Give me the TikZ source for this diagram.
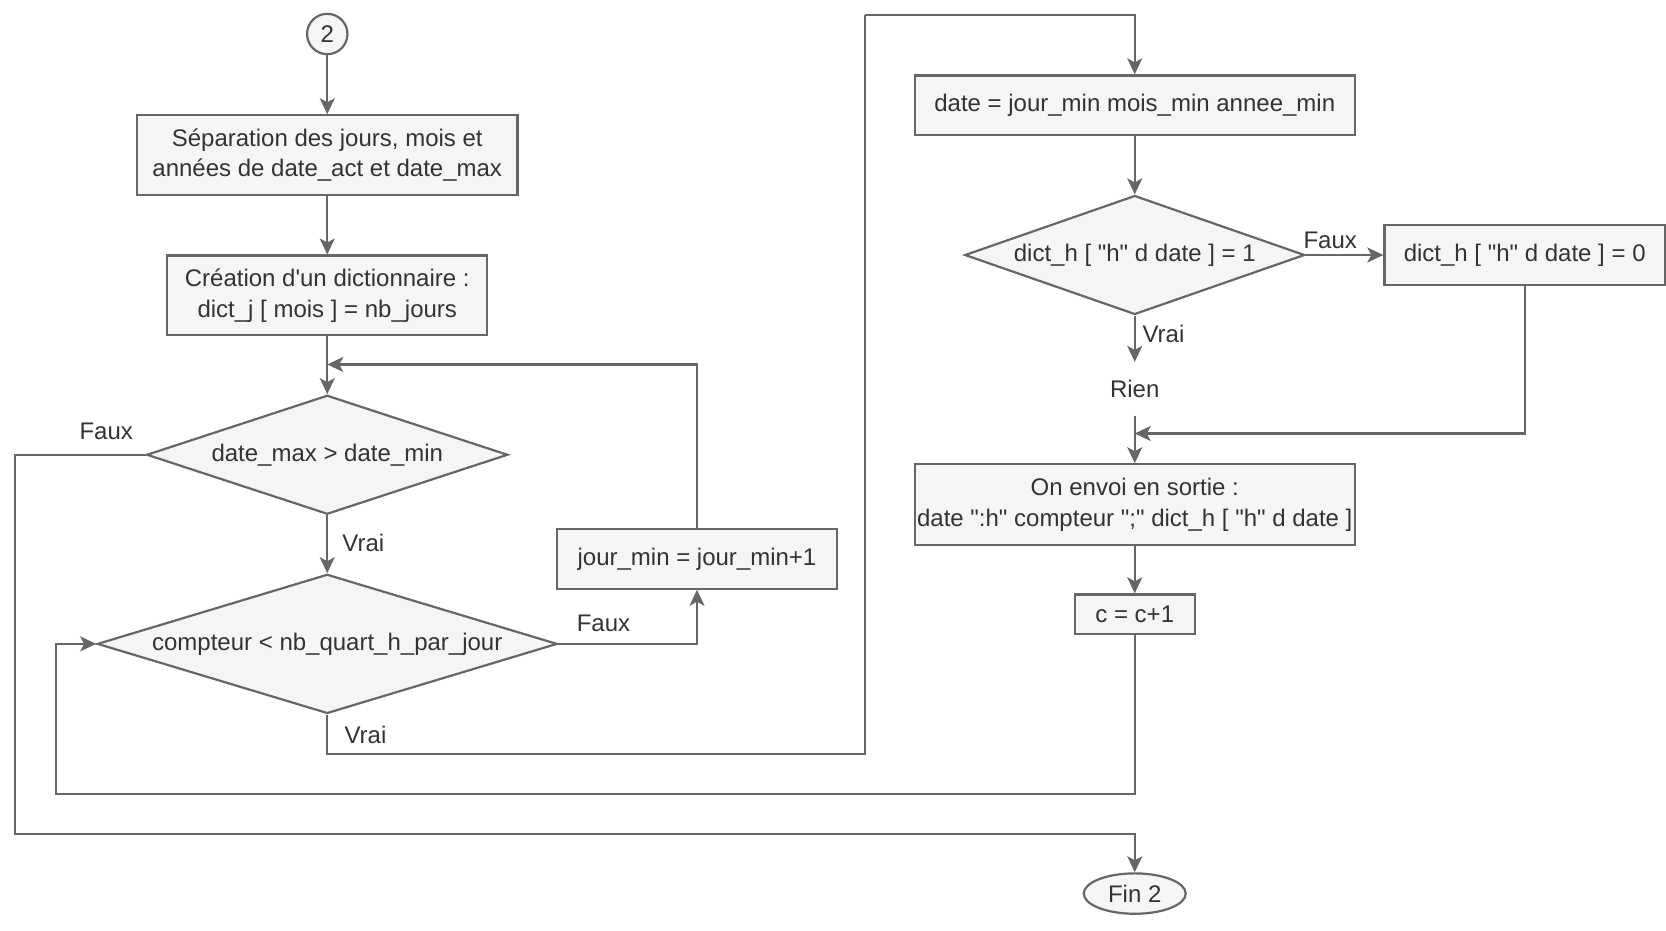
\documentclass[tikz,border=0pt]{standalone}
\usepackage{fontspec}
\setmainfont{Liberation Sans}[Ligatures=TeXOff]
\usetikzlibrary{shapes.geometric,arrows.meta}
\definecolor{fillg}{HTML}{F5F5F5}
\definecolor{lineg}{HTML}{666666}
\definecolor{textg}{HTML}{333333}

\begin{document}
\begin{tikzpicture}[x=0.53125pt,y=-0.53125pt]
\tikzstyle{every node}+=[inner sep=0pt, text=textg, font=\fontsize{12}{15.4}\selectfont]
\tikzstyle{box}=[rectangle, draw=lineg, fill=fillg, line width=1.1pt, align=center]
\tikzstyle{cond}=[diamond, draw=lineg, fill=fillg, line width=1.1pt, aspect=3]
\tikzstyle{line}=[draw=lineg, line width=1.1pt, -{Stealth[length=8pt,width=7.5pt,inset=2pt]}]
\tikzstyle{plain}=[draw=lineg, line width=1.1pt]
\useasboundingbox (0,0) rectangle (1568,876);
% nodes
\node [circle, draw=lineg, fill=fillg, line width=1.1pt, minimum size=20.2pt] (deb) at (308,32) {2};
\node [box, minimum width=190.2pt, minimum height=39.8pt] (sep) at (308,146) {Séparation des jours, mois et\\années de date\_act et date\_max};
\node [box, minimum width=159.9pt, minimum height=39.8pt] (dico) at (308,278) {Création d'un dictionnaire :\\dict\_j [ mois ] = nb\_jours};
\node [cond, minimum width=180.6pt, minimum height=59.5pt] (testd) at (308,428) {date\_max > date\_min};
\node [cond, minimum width=230pt, minimum height=69.6pt] (testc) at (308,606) {compteur < nb\_quart\_h\_par\_jour};
\node [box, minimum width=140.25pt, minimum height=29.75pt] (incj) at (656,526) {jour\_min = jour\_min+1};
\node [box, minimum width=219.9pt, minimum height=29.75pt] (date) at (1068,99) {date = jour\_min mois\_min annee\_min};
\node [cond, minimum width=170pt, minimum height=59.5pt] (testh) at (1068,240) {dict\_h [ "h" d date ] = 1};
\node [box, minimum width=140.25pt, minimum height=29.75pt] (hzero) at (1435,240) {dict\_h [ "h" d date ] = 0};
\node [minimum height=26.6pt] (rien) at (1068,366) {Rien};
\node [box, minimum width=219.9pt, minimum height=40.4pt] (sortie) at (1068,475) {On envoi en sortie :\\date ":h" compteur ";" dict\_h [ "h" d date ]};
\node [box, minimum width=60pt, minimum height=19.7pt] (incc) at (1068,578) {c = c+1};
\node [ellipse, draw=lineg, fill=fillg, line width=1.1pt, minimum width=51pt, minimum height=20.2pt] (fin) at (1068,841) {Fin 2};
\coordinate (m1) at (308,343);
\coordinate (m2) at (1068,408);
\coordinate (k1) at (14,785);
\coordinate (k2) at (814,710);
\coordinate (k3) at (814,14);
\coordinate (k4) at (53,747);
% connectors
\draw [line] (deb) -- (sep);
\draw [line] (sep) -- (dico);
\draw [line] (dico) -- (testd);
\draw [line] (testd) -- (testc);
\draw [line] (testd.west) -| (k1) -| (fin.north);
\draw [line] (testc.east) -| (incj.south);
\draw [line] (incj.north) |- (m1);
\draw [plain] (testc.south) |- (k2) -- (k3);
\draw [line] (k3) -| (date.north);
\draw [line] (date) -- (testh);
\draw [line] (testh) -- (hzero);
\draw [line] (testh) -- (rien);
\draw [line] (rien) -- (sortie);
\draw [line] (hzero.south) |- (m2);
\draw [line] (sortie) -- (incc);
\draw [line] (incc.south) |- (k4) |- (testc.west);
% labels
\draw (100,406) node {Faux};
\draw (342,511) node {Vrai};
\draw (568,587) node {Faux};
\draw (344,692) node {Vrai};
\draw (1252,226) node {Faux};
\draw (1095,314) node {Vrai};
\end{tikzpicture}
\end{document}
